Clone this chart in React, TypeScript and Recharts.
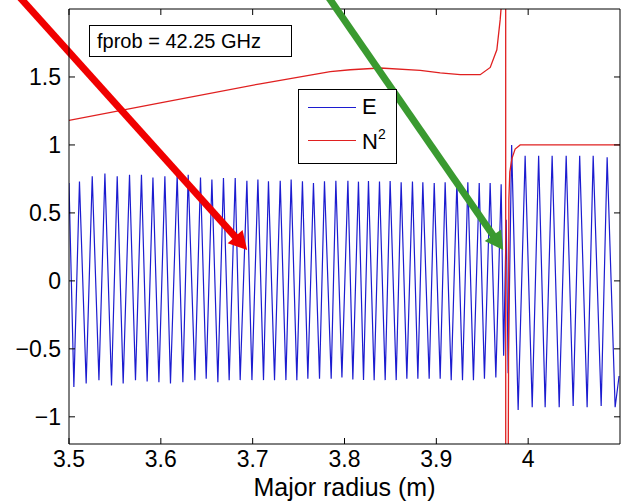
import { LineChart, Line, XAxis, YAxis, ReferenceLine } from "recharts";

const xTicks = [3.5, 3.6, 3.7, 3.8, 3.9, 4];
const yTicks = [-1, -0.5, 0, 0.5, 1, 1.5];

// E field, peaks and troughs
const eRadius = [
  3.5, 3.5053, 3.5114, 3.5187, 3.5253, 3.5326, 3.5391, 3.5463, 3.5525, 3.559,
  3.5659, 3.5724, 3.5789, 3.5851, 3.5914, 3.5979, 3.6044, 3.6105, 3.6178, 3.624,
  3.6298, 3.6371, 3.6432, 3.6494, 3.6556, 3.6621, 3.6682, 3.6744, 3.681, 3.6864,
  3.6937, 3.6992, 3.7057, 3.7118, 3.7172, 3.7238, 3.73, 3.7362, 3.7419, 3.7481,
  3.7542, 3.7601, 3.7662, 3.7728, 3.7782, 3.7855, 3.7906, 3.7972, 3.8037, 3.8091,
  3.8152, 3.8207, 3.8261, 3.8323, 3.8381, 3.8443, 3.8497, 3.8563, 3.8617, 3.8679,
  3.874, 3.8799, 3.8853, 3.8922, 3.8977, 3.9042, 3.9096, 3.9162, 3.9224, 3.9285,
  3.9343, 3.9404, 3.9467, 3.9524, 3.9586, 3.9648, 3.9706, 3.9733, 3.9761, 3.9782,
  3.982, 3.9891, 3.9967, 4.0044, 4.0114, 4.0185, 4.0261, 4.0338, 4.0414, 4.049,
  4.0561, 4.0642, 4.0708, 4.0795, 4.086, 4.0947, 4.099,
];
const eField = [
  0.72, -0.78, 0.73, -0.755, 0.77, -0.73, 0.79, -0.77, 0.77, -0.755,
  0.78, -0.73, 0.78, -0.74, 0.76, -0.745, 0.77, -0.755, 0.78, -0.745,
  0.78, -0.73, 0.76, -0.72, 0.745, -0.745, 0.757, -0.73, 0.757, -0.73,
  0.737, -0.73, 0.745, -0.73, 0.733, -0.73, 0.737, -0.73, 0.745, -0.73,
  0.733, -0.72, 0.72, -0.72, 0.733, -0.72, 0.737, -0.71, 0.737, -0.725,
  0.73, -0.73, 0.735, -0.73, 0.73, -0.73, 0.735, -0.73, 0.725, -0.72,
  0.73, -0.72, 0.725, -0.72, 0.72, -0.72, 0.725, -0.73, 0.73, -0.73,
  0.725, -0.73, 0.72, -0.72, 0.72, -0.71, 0.71, -0.55, 0.45, -0.68,
  1.0, -0.95, 0.92, -0.93, 0.92, -0.93, 0.92, -0.93, 0.92, -0.92,
  0.92, -0.93, 0.92, -0.92, 0.91, -0.93, -0.7,
];

// refractive index squared, goes off scale at the cutoff
const n2Radius = [
  3.5, 3.5994, 3.7082, 3.7845, 3.8063, 3.8389, 3.8825, 3.9042, 3.926, 3.9478,
  3.9587, 3.9659, 3.9695, 3.9713, 3.9735, 3.9754, 3.9757, 3.9782, 3.9786, 3.979,
  3.98, 3.9823, 3.9858, 3.9913, 4.1,
];
const n2Value = [
  1.18, 1.31, 1.45, 1.54, 1.553, 1.566, 1.549, 1.53, 1.517, 1.517,
  1.57, 1.7, 1.92, 2.07, 2.6, 12, -12, -1.5, -0.68, 0.6,
  0.8, 0.9, 0.97, 1.0, 1.0,
];

// annotation arrows, start -> tip
const redArrow = [
  { x: 3.4251, y: 2.246 },
  { x: 3.694, y: 0.227 },
];
const greenArrow = [
  { x: 3.7768, y: 2.143 },
  { x: 3.9728, y: 0.227 },
];

const eData = eRadius.map((r, i) => ({ r, e: eField[i] }));
const n2Data = n2Radius.map((r, i) => ({ r, n2: n2Value[i] }));

const fmt = (v: number) => (v < 0 ? "\u2212" + Math.abs(v) : String(v));

const arrow = (color: string) => (p: any) => {
  const { x1, y1, x2, y2 } = p;
  const len = Math.hypot(x2 - x1, y2 - y1);
  const ux = (x2 - x1) / len;
  const uy = (y2 - y1) / len;
  const hl = 18;
  const hw = 10;
  const bx = x2 - ux * hl;
  const by = y2 - uy * hl;
  return (
    <g>
      <line x1={x1} y1={y1} x2={bx + ux * 2} y2={by + uy * 2} stroke={color} strokeWidth={7} />
      <polygon
        points={`${x2},${y2} ${bx - uy * hw},${by + ux * hw} ${bx + uy * hw},${by - ux * hw}`}
        fill={color}
      />
    </g>
  );
};

// matlab style inward ticks on both ends of a full-span reference line
const TICK = 6;
const innerTicks = (p: any) => {
  const { x1, y1, x2, y2 } = p;
  const vertical = Math.abs(x1 - x2) < 0.5;
  return vertical ? (
    <g stroke="#000" strokeWidth={1}>
      <line x1={x1} y1={Math.min(y1, y2)} x2={x1} y2={Math.min(y1, y2) + TICK} />
      <line x1={x1} y1={Math.max(y1, y2)} x2={x1} y2={Math.max(y1, y2) - TICK} />
    </g>
  ) : (
    <g stroke="#000" strokeWidth={1}>
      <line x1={Math.min(x1, x2)} y1={y1} x2={Math.min(x1, x2) + TICK} y2={y1} />
      <line x1={Math.max(x1, x2)} y1={y1} x2={Math.max(x1, x2) - TICK} y2={y1} />
    </g>
  );
};

const black = "#000";
const tickFont = { fill: black, fontSize: 23 };

export default function App() {
  return (
    <div
      style={{
        position: "absolute",
        left: 0,
        top: 0,
        width: 624,
        height: 502,
        background: "#fff",
        fontFamily: "'Liberation Sans', Arial, sans-serif",
      }}
    >
      <LineChart width={624} height={502} margin={{ top: 9, right: 4, bottom: 0, left: 0 }}>
        <XAxis
          xAxisId="x"
          type="number"
          dataKey="r"
          domain={[3.5, 4.1]}
          ticks={xTicks}
          tickFormatter={fmt}
          allowDataOverflow
          height={58}
          tickLine={false}
          tickSize={0}
          tickMargin={7}
          axisLine={{ stroke: black }}
          tick={tickFont}
          label={{ value: "Major radius (m)", position: "insideBottom", offset: 6, fill: black, fontSize: 25 }}
        />
        <YAxis
          yAxisId="y"
          type="number"
          domain={[-1.2, 2]}
          ticks={yTicks}
          tickFormatter={fmt}
          allowDataOverflow
          width={69}
          tickLine={false}
          tickSize={0}
          tickMargin={8}
          axisLine={{ stroke: black }}
          tick={tickFont}
        />
        <Line
          xAxisId="x"
          yAxisId="y"
          data={eData}
          dataKey="e"
          type="linear"
          stroke="#1c1cd0"
          strokeWidth={1.2}
          dot={false}
          activeDot={false}
          isAnimationActive={false}
        />
        <Line
          xAxisId="x"
          yAxisId="y"
          data={n2Data}
          dataKey="n2"
          type="linear"
          stroke="#e02020"
          strokeWidth={1.3}
          dot={false}
          activeDot={false}
          isAnimationActive={false}
        />
        {/* box */}
        <ReferenceLine xAxisId="x" yAxisId="y" y={2} stroke={black} strokeWidth={1} />
        <ReferenceLine xAxisId="x" yAxisId="y" x={4.1} stroke={black} strokeWidth={1} />
        {xTicks.map((t) => (
          <ReferenceLine key={"xt" + t} xAxisId="x" yAxisId="y" x={t} shape={innerTicks} />
        ))}
        {yTicks.map((t) => (
          <ReferenceLine key={"yt" + t} xAxisId="x" yAxisId="y" y={t} shape={innerTicks} />
        ))}
        <ReferenceLine
          xAxisId="x"
          yAxisId="y"
          segment={redArrow}
          ifOverflow="visible"
          shape={arrow("#f00000")}
        />
        <ReferenceLine
          xAxisId="x"
          yAxisId="y"
          segment={greenArrow}
          ifOverflow="visible"
          shape={arrow("#3a9a30")}
        />
      </LineChart>

      <div
        style={{
          position: "absolute",
          left: 89,
          top: 25,
          width: 194,
          height: 30,
          border: "1px solid #000",
          background: "#fff",
          fontSize: 20,
          lineHeight: "30px",
          paddingLeft: 7,
          boxSizing: "content-box",
          whiteSpace: "nowrap",
        }}
      >
        fprob = 42.25 GHz
      </div>

      <div
        style={{
          position: "absolute",
          left: 298,
          top: 89,
          width: 97,
          height: 73,
          border: "1px solid #000",
          background: "#fff",
          fontSize: 22,
        }}
      >
        <div style={{ position: "absolute", left: 9, top: 17, width: 48, height: 1.2, background: "#1c1cd0" }} />
        <div style={{ position: "absolute", left: 63, top: 5, lineHeight: "24px" }}>E</div>
        <div style={{ position: "absolute", left: 9, top: 50, width: 48, height: 1.2, background: "#e02020" }} />
        <div style={{ position: "absolute", left: 63, top: 40, lineHeight: "24px" }}>
          N<span style={{ fontSize: 14, position: "relative", top: -10 }}>2</span>
        </div>
      </div>
    </div>
  );
}
